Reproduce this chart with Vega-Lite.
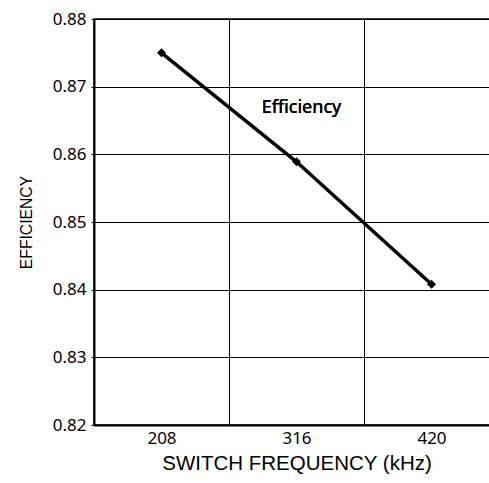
{
  "$schema": "https://vega.github.io/schema/vega-lite/v6.json",
  "width": 405,
  "height": 406,
  "autosize": {"type": "none"},
  "padding": {"left": 94, "top": 19, "right": 0, "bottom": 58},
  "background": "white",
  "config": {
    "view": {"stroke": "black", "strokeWidth": 1.5},
    "axis": {
      "gridColor": "black", "gridOpacity": 1, "gridWidth": 1,
      "domainColor": "black", "domainWidth": 2,
      "labelFont": "Noto Sans", "labelFontSize": 17, "labelColor": "black",
      "titleFont": "Liberation Sans", "titleFontWeight": "normal", "titleColor": "black"
    }
  },
  "data": {
    "values": [
      {"freq": "208", "eff": 0.875},
      {"freq": "316", "eff": 0.8589},
      {"freq": "420", "eff": 0.8408}
    ]
  },
  "layer": [
    {
      "mark": {"type": "line", "color": "black", "strokeWidth": 3.5, "point": {"shape": "diamond", "size": 80, "color": "black", "filled": true}},
      "encoding": {
        "x": {
          "field": "freq", "type": "ordinal", "sort": null,
          "scale": {"type": "band", "paddingInner": 0, "paddingOuter": 0},
          "axis": {
            "title": "SWITCH FREQUENCY (kHz)", "titleFontSize": 20.5, "titlePadding": 7,
            "labelAngle": 0, "labelPadding": 5, "ticks": false, "tickBand": "extent",
            "grid": true, "domain": true
          }
        },
        "y": {
          "field": "eff", "type": "quantitative",
          "scale": {"domain": [0.82, 0.88], "nice": false, "zero": false},
          "axis": {
            "title": "EFFICIENCY", "titleFontSize": 15.7, "titlePadding": 18,
            "values": [0.82, 0.83, 0.84, 0.85, 0.86, 0.87, 0.88],
            "format": ".2f", "ticks": true, "tickSize": 3, "tickColor": "black",
            "labelPadding": 5, "grid": true, "domain": true
          }
        }
      }
    },
    {
      "mark": {"type": "text", "font": "Noto Sans", "fontSize": 18, "color": "black", "dx": 5, "align": "center", "baseline": "middle"},
      "encoding": {
        "x": {"datum": "316", "type": "ordinal"},
        "y": {"datum": 0.8669, "type": "quantitative"},
        "text": {"value": "Efficiency"}
      }
    }
  ]
}
